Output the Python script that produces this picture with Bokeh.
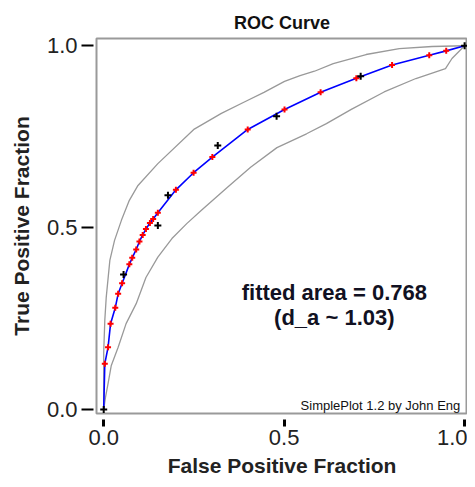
from bokeh.plotting import figure
from bokeh.models import Range1d, FixedTicker, Label, NumeralTickFormatter
from bokeh.embed import file_html
from bokeh.resources import INLINE

# Fitted ROC curve points (red markers)
fit_fpf = [0.003, 0.012, 0.019, 0.032, 0.040, 0.051, 0.071, 0.079, 0.090, 0.099,
           0.108, 0.117, 0.128, 0.137, 0.150, 0.200, 0.249, 0.301, 0.399, 0.501,
           0.601, 0.700, 0.799, 0.902, 0.949]
fit_tpf = [0.126, 0.171, 0.236, 0.280, 0.318, 0.347, 0.399, 0.417, 0.440, 0.462,
           0.480, 0.496, 0.513, 0.524, 0.541, 0.604, 0.651, 0.694, 0.770, 0.825,
           0.872, 0.911, 0.947, 0.974, 0.986]

# Empirical operating points (black markers)
op_fpf = [0.0, 0.055, 0.150, 0.178, 0.316, 0.479, 0.712, 1.0]
op_tpf = [0.0, 0.371, 0.506, 0.589, 0.726, 0.806, 0.916, 1.0]

# Upper confidence band
upper_fpf = [0.0, 0.0, 0.003, 0.007, 0.017, 0.030, 0.049, 0.071, 0.095, 0.150,
             0.251, 0.326, 0.391, 0.444, 0.501, 0.544, 0.584, 0.636, 0.727, 0.819,
             0.910, 1.0]
upper_tpf = [0.0, 0.157, 0.245, 0.309, 0.410, 0.465, 0.520, 0.575, 0.616, 0.676,
             0.771, 0.814, 0.846, 0.872, 0.902, 0.918, 0.930, 0.951, 0.976, 0.992,
             0.998, 1.0]

# Lower confidence band
lower_fpf = [0.0, 0.005, 0.012, 0.021, 0.040, 0.062, 0.090, 0.117, 0.150, 0.189,
             0.230, 0.270, 0.343, 0.407, 0.480, 0.562, 0.617, 0.686, 0.777, 0.865,
             0.947, 0.965, 1.0]
lower_tpf = [0.0, 0.034, 0.071, 0.121, 0.171, 0.236, 0.291, 0.363, 0.419, 0.470,
             0.511, 0.547, 0.611, 0.666, 0.720, 0.758, 0.786, 0.825, 0.873, 0.910,
             0.937, 0.965, 1.0]

tick_values = [0.0, 0.5, 1.0]
fitted_area = "0.768"
d_a = "1.03"

curve_fpf = [0.0] + fit_fpf + [1.0]
curve_tpf = [0.0] + fit_tpf + [1.0]

p = figure(width=467, height=479, output_backend="svg", toolbar_location=None,
           x_range=Range1d(-0.020, 1.008), y_range=Range1d(-0.011, 1.020),
           min_border_left=96, min_border_right=0, min_border_top=38, min_border_bottom=66,
           title="ROC Curve")

p.title.text_font = "Liberation Sans"
p.title.text_font_size = "18px"
p.title.text_font_style = "bold"
p.title.align = "center"
p.title.vertical_align = "top"
p.title.text_color = "#111111"
p.title.standoff = 8

p.grid.visible = False
p.background_fill_color = "white"
p.border_fill_color = "white"
p.outline_line_color = "#9a9a9a"
p.outline_line_width = 2

for ax in (p.xaxis[0], p.yaxis[0]):
    ax.ticker = FixedTicker(ticks=tick_values)
    ax.formatter = NumeralTickFormatter(format="0.0")
    ax.axis_line_color = None
    ax.minor_tick_line_color = None
    ax.major_tick_line_color = "black"
    ax.major_label_text_font = "Liberation Sans"
    ax.major_label_text_font_size = "22px"
    ax.major_label_text_color = "#222222"
    ax.axis_label_text_font = "Liberation Sans"
    ax.axis_label_text_font_style = "bold"
    ax.axis_label_text_color = "#222222"
    ax.axis_label_text_font_size = "21px"

p.xaxis.axis_label = "False Positive Fraction"
p.yaxis.axis_label = "True Positive Fraction"

p.yaxis.major_tick_in = -3
p.yaxis.major_tick_out = 15
p.yaxis.major_tick_line_width = 2
p.yaxis.major_label_standoff = 4
p.yaxis.axis_label_standoff = 11

p.xaxis.major_tick_in = -6
p.xaxis.major_tick_out = 13
p.xaxis.major_tick_line_width = 3
p.xaxis.major_label_standoff = 3
p.xaxis.axis_label_standoff = 6

# Confidence bands
p.line(upper_fpf, upper_tpf, line_color="#999999", line_width=1.3)
p.line(lower_fpf, lower_tpf, line_color="#999999", line_width=1.3)

# Fitted curve
p.line(curve_fpf, curve_tpf, line_color="#0000ff", line_width=1.6)
p.scatter(fit_fpf, fit_tpf, marker="cross", size=6, line_color="#ff0000", line_width=2)

# Operating points
p.scatter(op_fpf, op_tpf, marker="cross", size=7, line_color="black", line_width=2)

p.add_layout(Label(x=0.639, y=0.322, text="fitted area = " + fitted_area,
                   text_align="center", text_baseline="middle",
                   text_font="Liberation Sans", text_font_size="22px",
                   text_font_style="bold", text_color="#111122"))
p.add_layout(Label(x=0.639, y=0.253, text="(d_a ~ " + d_a + ")",
                   text_align="center", text_baseline="middle",
                   text_font="Liberation Sans", text_font_size="22px",
                   text_font_style="bold", text_color="#111122"))
p.add_layout(Label(x=0.988, y=0.010, text="SimplePlot 1.2 by John Eng",
                   text_align="right", text_baseline="middle",
                   text_font="Liberation Sans", text_font_size="13px",
                   text_color="#111111"))

open("out.html", "w").write(file_html(p, INLINE))
